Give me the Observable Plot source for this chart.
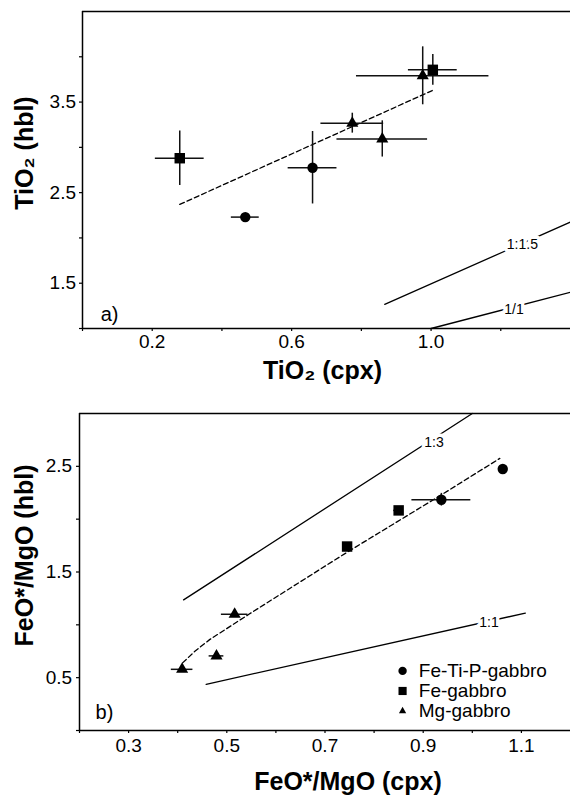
<!DOCTYPE html>
<html><head><meta charset="utf-8">
<script src="https://cdn.jsdelivr.net/npm/d3@7"></script>
<script src="https://cdn.jsdelivr.net/npm/@observablehq/plot@0.6"></script>
<style>body{margin:0;background:#fff;} svg{display:block;}</style>
</head><body><div id="chart"></div>
<script>
// ---------- Panel a) TiO2 ----------
const typeA   = ["Fe-gabbro","Fe-Ti-P-gabbro","Fe-Ti-P-gabbro","Mg-gabbro","Mg-gabbro","Mg-gabbro","Fe-gabbro"];
const cpxA    = [0.279, 0.467, 0.66, 0.774, 0.86, 0.976, 1.005];
const hblA    = [2.88, 2.23, 2.775, 3.267, 3.093, 3.79, 3.856];
const cpxErrA = [0.07, 0.04, 0.07, 0.09, 0.13, 0.19, 0.07];
const hblErrA = [0.30, 0.03, 0.40, 0.11, 0.20, 0.32, 0.17];
const trendAx = [0.279, 1.005];
const trendAy = [2.37, 3.63];
const ref15x  = [0.867, 1.4];
const ref15y  = [1.267, 2.175];
const ref11Ax = [1.0, 1.4];
const ref11Ay = [1.0, 1.4];
const xDomainA = [0, 1.4];
const yDomainA = [1.0, 4.5];
const xTicksA  = [0, 0.2, 0.4, 0.6, 0.8, 1.0, 1.2];
const xLabelsA = [0.2, 0.6, 1.0];
const yTicksA  = [1.0, 1.5, 2.0, 2.5, 3.0, 3.5, 4.0];
const yLabelsA = [1.5, 2.5, 3.5];
const refLabelsA = ["1:1.5", "1/1"];
const refLabelAx = [1.262, 1.238];
const refLabelAy = [1.927, 1.21];

// ---------- Panel b) FeO*/MgO ----------
const typeB   = ["Mg-gabbro","Mg-gabbro","Mg-gabbro","Fe-gabbro","Fe-gabbro","Fe-Ti-P-gabbro","Fe-Ti-P-gabbro"];
const cpxB    = [0.409, 0.479, 0.516, 0.745, 0.850, 0.937, 1.062];
const hblB    = [0.579, 0.706, 1.10, 1.741, 2.083, 2.184, 2.475];
const cpxErrB = [0.022, 0.015, 0.027, 0.008, 0.01, 0.06, 0];
const hblErrB = [0, 0, 0, 0, 0, 0.06, 0];
const trendBx = [0.41, 0.435, 0.465, 0.545, 0.745, 0.937, 1.056];
const trendBy = [0.64, 0.75, 0.86, 1.10, 1.687, 2.23, 2.575];
const ref13x  = [0.412, 1.0];
const ref13y  = [1.236, 3.0];
const ref11Bx = [0.458, 1.108];
const ref11By = [0.437, 1.111];
const xDomainB = [0.2, 1.2];
const yDomainB = [0, 3.0];
const xTicksB  = [0.2, 0.3, 0.4, 0.5, 0.6, 0.7, 0.8, 0.9, 1.0, 1.1];
const xLabelsB = [0.3, 0.5, 0.7, 0.9, 1.1];
const yTicksB  = [0, 0.5, 1.0, 1.5, 2.0, 2.5];
const yLabelsB = [0.5, 1.5, 2.5];
const refLabelsB = ["1:3", "1:1"];
const refLabelBx = [0.922, 1.034];
const refLabelBy = [2.73, 1.022];

// legend
const legendLabels  = ["Fe-Ti-P-gabbro", "Fe-gabbro", "Mg-gabbro"];
const legendSymbols = ["circle", "square", "triangle"];
const legendY = [0.564, 0.374, 0.184];
const legendMarkX = 0.858;
const legendTextX = 0.891;

const symbolOf = {"Fe-Ti-P-gabbro": "circle", "Fe-gabbro": "square", "Mg-gabbro": "triangle"};
const sizeOf = {"circle": 5.2, "square": 5.9, "triangle": 4.5};
const legendSize = {"circle": 4.2, "square": 4.6, "triangle": 2.7};

const FONT = "'Liberation Sans', Arial, Helvetica, sans-serif";
const fmt = d3.format(".1f");

function rows(type, x, y, xe, ye) {
  return type.map((t, i) => ({type: t, x: x[i], y: y[i], xe: xe[i], ye: ye[i]}));
}
function pts(xs, ys) { return xs.map((x, i) => ({x, y: ys[i]})); }

function dots(data) {
  return ["circle", "square", "triangle"].map(s =>
    Plot.dot(data.filter(d => symbolOf[d.type] === s), {
      x: "x", y: "y", symbol: s, r: sizeOf[s], fill: "black", stroke: "none"
    }));
}
function errBars(data) {
  return [
    Plot.ruleY(data.filter(d => d.xe > 0), {y: "y", x1: d => d.x - d.xe, x2: d => d.x + d.xe, stroke: "#111", strokeWidth: 1.5}),
    Plot.ruleX(data.filter(d => d.ye > 0), {x: "x", y1: d => d.y - d.ye, y2: d => d.y + d.ye, stroke: "#111", strokeWidth: 1.5})
  ];
}
function refLabels(labels, xs, ys) {
  return Plot.text(labels.map((t, i) => ({t, x: xs[i], y: ys[i]})), {
    x: "x", y: "y", text: "t", fontSize: 14, fill: "black",
    stroke: "white", strokeWidth: 7, textAnchor: "middle", lineAnchor: "middle"
  });
}

const rowsA = rows(typeA, cpxA, hblA, cpxErrA, hblErrA);
const rowsB = rows(typeB, cpxB, hblB, cpxErrB, hblErrB);

const plotA = Plot.plot({
  width: 570, height: 390,
  marginTop: 11, marginBottom: 62, marginLeft: 82, marginRight: 0,
  style: {fontFamily: FONT, fontSize: "19px", color: "black", background: "white", overflow: "visible"},
  x: {domain: xDomainA},
  y: {domain: yDomainA},
  marks: [
    Plot.ruleY([yDomainA[1]], {stroke: "black", strokeWidth: 1.5}),
    Plot.ruleY([yDomainA[0]], {stroke: "black", strokeWidth: 1.5}),
    Plot.ruleX([xDomainA[0]], {stroke: "black", strokeWidth: 1.5}),
    Plot.axisX(xTicksA, {tickSize: 3, tickFormat: () => "", label: null, strokeWidth: 1.2}),
    Plot.axisX(xLabelsA, {tickSize: 0, tickPadding: 5.5, tickFormat: fmt, label: null, fontSize: 19}),
    Plot.axisY(yTicksA, {tickSize: 3, tickFormat: () => "", label: null, strokeWidth: 1.2}),
    Plot.axisY(yLabelsA, {tickSize: 0, tickPadding: 6.5, tickFormat: fmt, label: null, fontSize: 19}),
    Plot.line(pts(trendAx, trendAy), {x: "x", y: "y", stroke: "black", strokeWidth: 1.3, strokeDasharray: "5,3"}),
    Plot.line(pts(ref15x, ref15y), {x: "x", y: "y", stroke: "black", strokeWidth: 1.3}),
    Plot.line(pts(ref11Ax, ref11Ay), {x: "x", y: "y", stroke: "black", strokeWidth: 1.3}),
    refLabels(refLabelsA, refLabelAx, refLabelAy),
    ...errBars(rowsA),
    ...dots(rowsA),
    Plot.text(["a)"], {x: 0.052, y: 1.156, text: d => d, fontSize: 20, textAnchor: "start", lineAnchor: "middle"}),
    Plot.text(["TiO₂ (cpx)"], {frameAnchor: "bottom", text: d => d, dx: -4, dy: 42, fontSize: 25, fontWeight: "bold", lineAnchor: "middle"}),
    Plot.text(["TiO₂ (hbl)"], {frameAnchor: "left", text: d => d, rotate: -90, dx: -58, dy: -17, fontSize: 25, fontWeight: "bold", textAnchor: "middle", lineAnchor: "middle"})
  ]
});

const plotB = Plot.plot({
  width: 570, height: 405,
  marginTop: 23, marginBottom: 65, marginLeft: 79, marginRight: 0,
  style: {fontFamily: FONT, fontSize: "19px", color: "black", background: "white", overflow: "visible"},
  x: {domain: xDomainB},
  y: {domain: yDomainB},
  marks: [
    Plot.ruleY([yDomainB[1]], {stroke: "black", strokeWidth: 1.5}),
    Plot.ruleY([yDomainB[0]], {stroke: "black", strokeWidth: 1.5}),
    Plot.ruleX([xDomainB[0]], {stroke: "black", strokeWidth: 1.5}),
    Plot.axisX(xTicksB, {tickSize: 3, tickFormat: () => "", label: null, strokeWidth: 1.2}),
    Plot.axisX(xLabelsB, {tickSize: 0, tickPadding: 8, tickFormat: fmt, label: null, fontSize: 19}),
    Plot.axisY(yTicksB, {tickSize: 3, tickFormat: () => "", label: null, strokeWidth: 1.2}),
    Plot.axisY(yLabelsB, {tickSize: 0, tickPadding: 7.3, tickFormat: fmt, label: null, fontSize: 19}),
    Plot.line(pts(trendBx, trendBy), {x: "x", y: "y", stroke: "black", strokeWidth: 1.3, strokeDasharray: "5,3"}),
    Plot.line(pts(ref13x, ref13y), {x: "x", y: "y", stroke: "black", strokeWidth: 1.3}),
    Plot.line(pts(ref11Bx, ref11By), {x: "x", y: "y", stroke: "black", strokeWidth: 1.3}),
    refLabels(refLabelsB, refLabelBx, refLabelBy),
    ...errBars(rowsB),
    ...dots(rowsB),
    ...legendSymbols.map((s, i) => Plot.dot([legendY[i]], {x: legendMarkX, y: d => d, symbol: s, r: legendSize[s], fill: "black", stroke: "none"})),
    Plot.text(legendLabels.map((t, i) => ({t, y: legendY[i]})), {x: legendTextX, y: "y", text: "t", fontSize: 19, textAnchor: "start", lineAnchor: "middle"}),
    Plot.text(["b)"], {x: 0.2326, y: 0.167, text: d => d, fontSize: 20, textAnchor: "start", lineAnchor: "middle"}),
    Plot.text(["FeO*/MgO (cpx)"], {frameAnchor: "bottom", text: d => d, dx: 23, dy: 51.5, fontSize: 25, fontWeight: "bold", lineAnchor: "middle"}),
    Plot.text(["FeO*/MgO (hbl)"], {frameAnchor: "left", text: d => d, rotate: -90, dx: -55, dy: -16.5, fontSize: 25, fontWeight: "bold", textAnchor: "middle", lineAnchor: "middle"})
  ]
});

const host = document.getElementById("chart");
host.appendChild(plotA);
host.appendChild(plotB);
</script></body></html>
